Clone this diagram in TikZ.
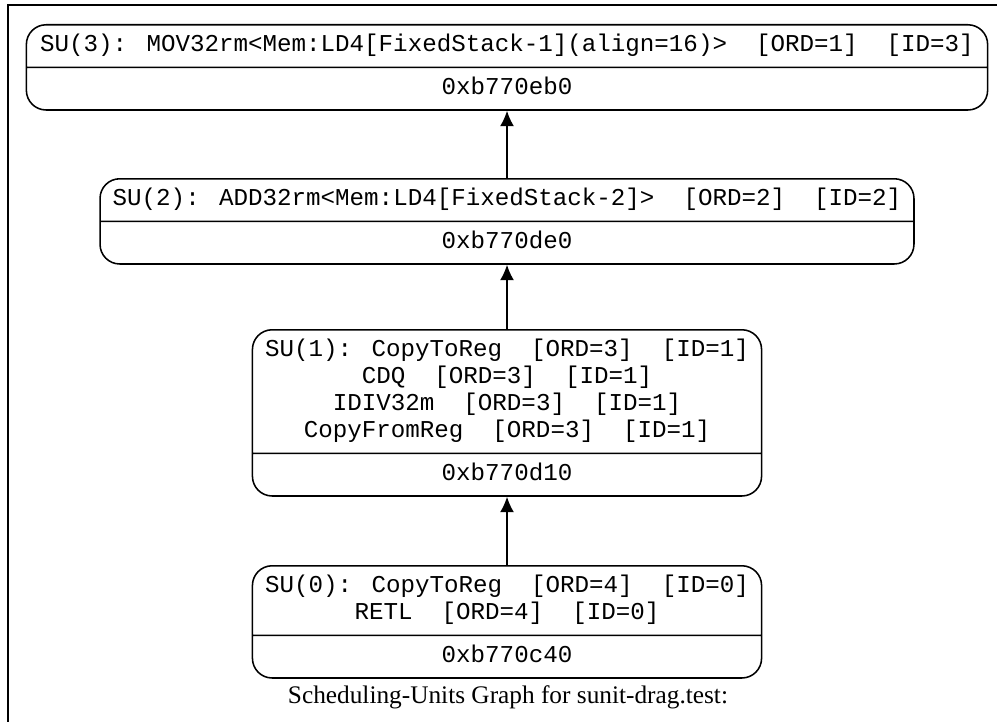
\documentclass[tikz,border=0pt]{standalone}
\usepackage{fontspec}
\setmainfont{Liberation Serif}
\newfontfamily\sufont{Liberation Mono}
\usetikzlibrary{positioning,shapes.multipart,arrows.meta}

\begin{document}
\begin{tikzpicture}%
	[x=0.025cm, y=-0.025cm,
	su/.style ={rectangle split, rectangle split parts=2, draw, line width=1.1pt, rounded corners=14pt,
		align=center, inner xsep=9pt, inner ysep=5pt, anchor=north,
		font=\sufont\fontsize{17.2}{19.2}\selectfont},
	dep/.style = {-{Latex[length=11pt,width=10pt]}, line width=1.1pt}]
	\useasboundingbox (0,0) rectangle (997,722);
	\draw[line width=1.6pt] (997,5) -- (8,5) -- (8,722);
	
	\node[su, minimum width=24.025cm] (su3) at (507,24) {\strut SU(3): MOV32rm<Mem:LD4[FixedStack-1](align=16)>\ \ [ORD=1]\ \ [ID=3]
		\nodepart{two} \strut 0xb770eb0};
	\node[su, minimum width=20.325cm] (su2) at (507,178) {\strut SU(2): ADD32rm<Mem:LD4[FixedStack-2]>\ \ [ORD=2]\ \ [ID=2]
		\nodepart{two} \strut 0xb770de0};
	\node[su, minimum width=12.475cm] (su1) at (507,329) {\strut SU(1): CopyToReg\ \ [ORD=3]\ \ [ID=1]\\
		\strut CDQ\ \ [ORD=3]\ \ [ID=1]\\
		\strut IDIV32m\ \ [ORD=3]\ \ [ID=1]\\
		\strut CopyFromReg\ \ [ORD=3]\ \ [ID=1]
		\nodepart{two} \strut 0xb770d10};
	\node[su, minimum width=12.475cm] (su0) at (507,565) {\strut SU(0): CopyToReg\ \ [ORD=4]\ \ [ID=0]\\
		\strut RETL\ \ [ORD=4]\ \ [ID=0]
		\nodepart{two} \strut 0xb770c40};
	
	\draw[dep] (su2) -- (su3);
	\draw[dep] (su1) -- (su2);
	\draw[dep] (su0) -- (su1);
	
	\node[font=\fontsize{18}{21}\selectfont] (title) at (508,697) {Scheduling-Units Graph for sunit-drag.test:};
	
\end{tikzpicture}
\end{document}
